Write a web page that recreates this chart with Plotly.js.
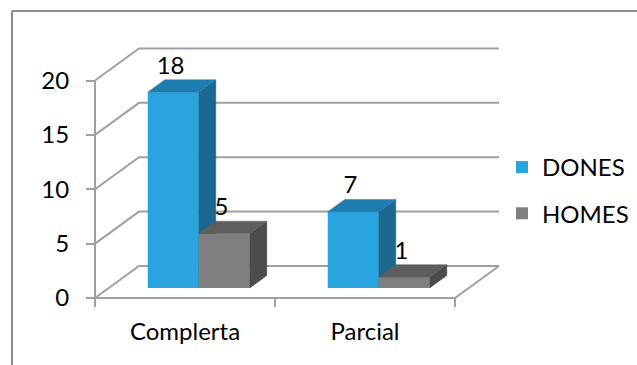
<!DOCTYPE html>
<html><head><meta charset="utf-8">
<script src="https://cdn.plot.ly/plotly-3.0.1.min.js"></script>
<style>html,body{margin:0;padding:0;background:#fff}</style>
</head><body><div id="chart" style="width:637px;height:365px"></div>
<script>
// ---- data ----
const categories = ['Complerta', 'Parcial'];
const seriesNames = ['DONES', 'HOMES'];
const dones = [18, 7];
const homes = [5, 1];
const yTicks = [0, 5, 10, 15, 20];

// ---- style / geometry (in axis units) ----
const DX = 0.2444, DY = 2.943;   // wall depth offset
const F0 = 0.3125, F1 = 0.70;    // bar depth span as fraction of wall depth
const BW = 0.2833;               // bar width
const FONT = 'Lato, "Open Sans", sans-serif';
const FS = 24;
const colors = {
  DONES: {front: '#29A4DE', top: '#1F7DB0', side: '#1B6891'},
  HOMES: {front: '#7F7F7F', top: '#5E5E5E', side: '#4C4C4C'}
};
const GRID = '#A0A0A0';
const XR = [-95/180, 542/180];
const YR = [-67/10.875, 298/10.875];
const n = categories.length;

// ---- gridlines / walls (base subplot) ----
const gx = [], gy = [];
yTicks.forEach(v => { gx.push(0, DX, n + DX, null); gy.push(v, v + DY, v + DY, null); });
gx.push(0, n, n + DX, null); gy.push(0, 0, DY, null);
gx.push(0, 0); gy.push(0, yTicks[yTicks.length - 1]);

const traces = [{
  type: 'scatter', mode: 'lines', x: gx, y: gy, xaxis: 'x', yaxis: 'y',
  line: {color: GRID, width: 2}, hoverinfo: 'skip', showlegend: false, connectgaps: false
}];

function seriesTraces(name, vals, offset, ax, ay) {
  const c = colors[name];
  const out = [];
  vals.forEach((v, i) => {
    const x0 = i + 0.5 + offset;
    // side face
    out.push({type: 'scatter', mode: 'lines', fill: 'toself', xaxis: ax, yaxis: ay,
      x: [x0 + BW + F0*DX, x0 + BW + F0*DX, x0 + BW + F1*DX, x0 + BW + F1*DX, x0 + BW + F0*DX],
      y: [F0*DY, v + F0*DY, v + F1*DY, F1*DY, F0*DY],
      fillcolor: c.side, line: {color: c.side, width: 0.5}, hoverinfo: 'skip', showlegend: false});
    // top face
    out.push({type: 'scatter', mode: 'lines', fill: 'toself', xaxis: ax, yaxis: ay,
      x: [x0 + F0*DX, x0 + BW + F0*DX, x0 + BW + F1*DX, x0 + F1*DX, x0 + F0*DX],
      y: [v + F0*DY, v + F0*DY, v + F1*DY, v + F1*DY, v + F0*DY],
      fillcolor: c.top, line: {color: c.top, width: 0.5}, hoverinfo: 'skip', showlegend: false});
  });
  // front faces as bars
  out.push({type: 'bar', name: name, legendgroup: name, xaxis: ax, yaxis: ay,
    x: vals.map((v, i) => i + 0.5 + offset + BW/2 + F0*DX),
    y: vals, base: vals.map(() => F0*DY), width: BW,
    marker: {color: c.front, line: {width: 0}}, hoverinfo: 'skip'});
  return out;
}

traces.push(...seriesTraces('DONES', dones, -BW, 'x2', 'y2'));
traces.push(...seriesTraces('HOMES', homes, 0, 'x3', 'y3'));

// data labels
[[dones, -BW], [homes, 0]].forEach(([vals, off]) => {
  traces.push({type: 'scatter', mode: 'text', xaxis: 'x3', yaxis: 'y3',
    x: vals.map((v, i) => i + 0.5 + off + BW/2 + F0*DX - 0.015),
    y: vals.map(v => v + F1*DY),
    text: vals.map(String), textposition: 'top center',
    textfont: {family: FONT, size: FS, color: '#000'},
    hoverinfo: 'skip', showlegend: false, cliponaxis: false});
});

const hidden = {range: XR, visible: false, showgrid: false, zeroline: false, fixedrange: true};
const layout = {
  width: 637, height: 365, autosize: false,
  margin: {l: 0, r: 0, t: 0, b: 0, pad: 0},
  paper_bgcolor: '#fff', plot_bgcolor: 'rgba(0,0,0,0)',
  font: {family: FONT, size: FS, color: '#000'},
  barmode: 'overlay', showlegend: true,
  xaxis: {range: XR, anchor: 'free', position: 67/365, showgrid: false, zeroline: false, showline: false,
    tickvals: categories.map((c, i) => i + 0.5), ticktext: categories, ticks: '',
    ticklabelstandoff: 17, tickfont: {family: FONT, size: FS, color: '#000'},
    minor: {tickvals: categories.map((c, i) => i).concat([n]), ticks: 'outside', ticklen: 8, tickwidth: 2, tickcolor: GRID}},
  yaxis: {range: YR, anchor: 'free', position: 95/637, showgrid: false, zeroline: false, showline: false,
    tickvals: yTicks, ticks: 'outside', ticklen: 9, tickwidth: 2, tickcolor: GRID,
    ticklabelstandoff: 12, tickfont: {family: FONT, size: FS, color: '#000'}},
  xaxis2: Object.assign({}, hidden, {overlaying: 'x', anchor: 'y2'}),
  yaxis2: Object.assign({}, hidden, {range: YR, overlaying: 'y', anchor: 'x2'}),
  xaxis3: Object.assign({}, hidden, {overlaying: 'x', anchor: 'y3'}),
  yaxis3: Object.assign({}, hidden, {range: YR, overlaying: 'y', anchor: 'x3'}),
  legend: {x: 502/637, xanchor: 'left', y: 1 - 145/365, yanchor: 'top', traceorder: 'grouped',
    tracegroupgap: 12, font: {family: FONT, size: FS, color: '#000'}, bgcolor: 'rgba(0,0,0,0)'},
  shapes: [
    {type: 'line', xref: 'paper', yref: 'paper', x0: 12/637, x1: 1, y0: 1 - 11/365, y1: 1 - 11/365, line: {color: '#8C8C8C', width: 2}},
    {type: 'line', xref: 'paper', yref: 'paper', x0: 12/637, x1: 12/637, y0: 0, y1: 1 - 11/365, line: {color: '#8C8C8C', width: 2}}
  ]
};

Plotly.newPlot('chart', traces, layout, {staticPlot: true, displayModeBar: false});
</script>
</body></html>
